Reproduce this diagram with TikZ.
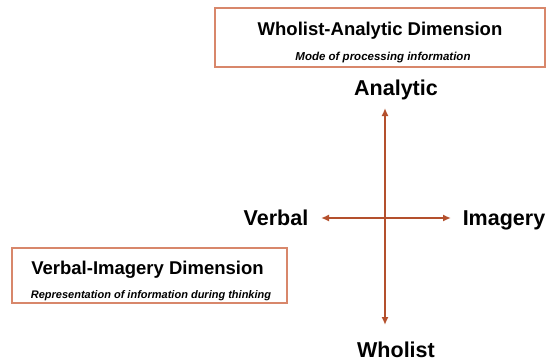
\documentclass[tikz,border=0pt]{standalone}
\usepackage{fontspec}
\setmainfont{Liberation Sans}
\usetikzlibrary{arrows.meta}
\definecolor{axisbrown}{HTML}{B4502D}
\definecolor{boxsalmon}{HTML}{D8876B}

\begin{document}
\begin{tikzpicture}
	[%
	x=1pt, y=-1pt,%
	dimbox/.style ={draw=boxsalmon,	line width=1.4pt,	inner sep=0pt},%
	axis/.style ={-{Latex[length=8pt,width=7pt]},	draw=axisbrown,	line width=2.3pt},%
	pole/.style ={font=\fontsize{21.5}{24}\selectfont\bfseries,	anchor=base},%
	head/.style ={font=\fontsize{18.5}{21}\selectfont\bfseries,	anchor=base},%
	sub/.style ={font=\fontsize{11.5}{13}\selectfont\bfseries\itshape,	anchor=base},%
	]

	\fill [white] (0,0) rectangle (550,362);
	\useasboundingbox (0,0) rectangle (550,362);

	% boxes
	\node (wabox) at (380,37.5) [dimbox, minimum width=330pt, minimum height=59pt] {};
	\node (vibox) at (149.5,275.5) [dimbox, minimum width=275pt, minimum height=55pt] {};

	% box texts
	\node (wahead) at (380,35) [head] {Wholist-Analytic Dimension};
	\node (wasub)	at (383,60) [sub] {Mode of processing information};
	\node (vihead) at (147.5,274) [head] {Verbal-Imagery Dimension};
	\node (visub)	at (151,298) [sub, font=\fontsize{11}{13}\selectfont\bfseries\itshape] {Representation of information during thinking};

	% poles
	\foreach \n/\x/\y/\t in {	analytic/396/95/Analytic, wholist/396/357/Wholist, %
												verbal/276/225/Verbal, imagery/504/225/Imagery %
												}
			\node (\n) at (\x,\y) [pole] {\t};

	% axes
	\coordinate (cross) at (385,218);
	\foreach \n/\x/\y in {	top/385/108, bot/385/325, lft/321/218, rgt/451/218 }
			\coordinate (\n) at (\x,\y);
	\foreach \e in {top, bot, lft, rgt}
		\draw [axis] (cross) -- (\e);

\end{tikzpicture}
\end{document}
